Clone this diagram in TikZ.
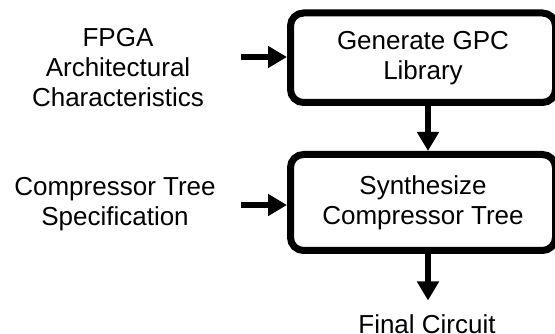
\documentclass[tikz,border=0pt]{standalone}
\usepackage{fontspec}
\setmainfont{Liberation Sans}
\usetikzlibrary{arrows.meta}
\begin{document}
\begin{tikzpicture}[x=1pt,y=1pt,
  procbox/.style={draw=black, line width=7pt, rounded corners=13pt, inner sep=0pt, align=center},
  lbl/.style={align=center, inner sep=0pt},
  flow/.style={line width=6.5pt, -{Triangle[length=19pt,width=21pt]}},
  every node/.style={font=\fontsize{26}{30}\selectfont}]
\clip (0,0) rectangle (555,-334);
\useasboundingbox (0,0) rectangle (555,-334);
\node[procbox, minimum width=265pt, minimum height=89.5pt] (gen) at (423,-57.75) {Generate GPC\\Library};
\node[procbox, minimum width=265pt, minimum height=96pt] (syn) at (423,-202.5) {Synthesize\\Compressor Tree};
\node[lbl] (fpga) at (118,-67.5) {FPGA\\Architectural\\Characteristics};
\node[lbl] (spec) at (115,-204) {Compressor Tree\\Specification};
\node[lbl, anchor=north] (final) at (427,-314) {Final Circuit};
\coordinate (s1) at (241,-57);
\coordinate (s2) at (241,-205);
\coordinate (e3) at (428,-300.5);
\draw[flow] (s1) -- (s1 -| gen.west);
\draw[flow] (s2) -- (s2 -| syn.west);
\draw[flow] (gen.south -| e3) -- (syn.north -| e3);
\draw[flow] (syn.south -| e3) -- (e3);
\end{tikzpicture}
\end{document}
